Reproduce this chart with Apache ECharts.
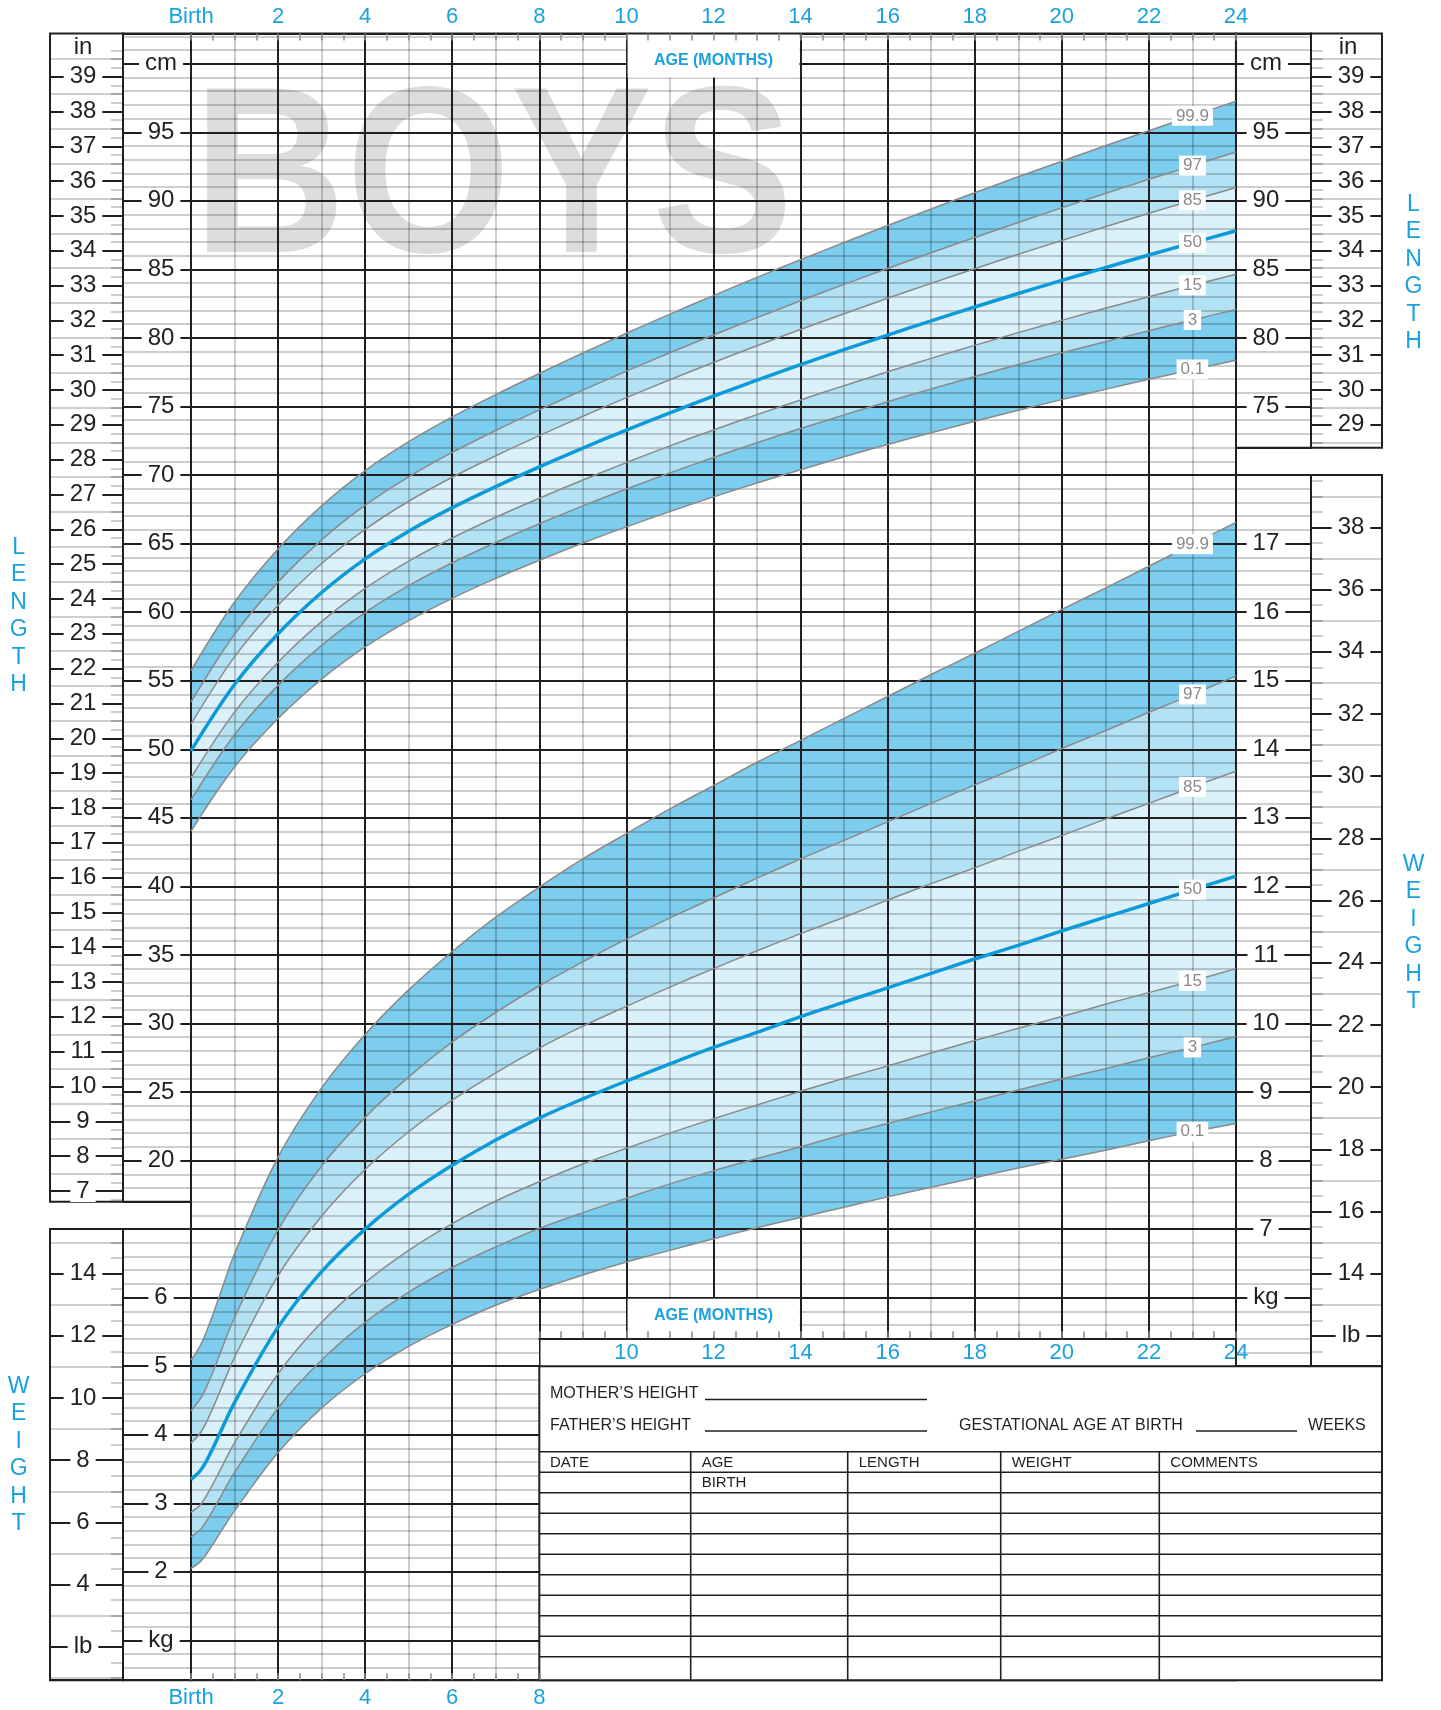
<!DOCTYPE html>
<html>
<head>
<meta charset="utf-8">
<title>Boys length-for-age and weight-for-age, birth to 2 years</title>
<script src="https://cdn.jsdelivr.net/npm/echarts@6.0.0/dist/echarts.min.js"></script>
<style>
html,body{margin:0;padding:0;background:#ffffff;}
#chart{width:1441px;height:1710px;}
</style>
</head>
<body>
<div id="chart"></div>
<script>
// ================= DATA =================
const percentileNames = ['0.1', '3', '15', '50', '85', '97', '99.9'];

// Length-for-age (cm), by month
const lengthMonths = [0,1,2,3,4,5,6,7,8,9,10,11,12,13,14,15,16,17,18,19,20,21,22,23,24];
const lengthP01  = [44.03,48.71,52.24,55.11,57.46,59.38,61.01,62.46,63.78,65.04,66.22,67.34,68.41,69.42,70.39,71.33,72.23,73.09,73.92,74.73,75.50,76.25,76.98,77.69,78.38];
const lengthP3   = [46.32,51.06,54.66,57.58,59.97,61.93,63.60,65.08,66.45,67.75,68.98,70.16,71.28,72.36,73.39,74.39,75.35,76.28,77.19,78.06,78.91,79.73,80.53,81.31,82.07];
const lengthP15  = [47.92,52.71,56.35,59.31,61.73,63.72,65.41,66.92,68.31,69.64,70.91,72.13,73.29,74.41,75.48,76.52,77.53,78.51,79.46,80.39,81.28,82.16,83.01,83.84,84.65];
const lengthP50  = [49.88,54.72,58.42,61.43,63.89,65.90,67.62,69.16,70.60,71.97,73.28,74.54,75.75,76.92,78.05,79.15,80.21,81.25,82.26,83.24,84.20,85.13,86.05,86.94,87.82];
const lengthP85  = [51.85,56.74,60.50,63.55,66.04,68.09,69.84,71.41,72.88,74.29,75.65,76.95,78.21,79.43,80.62,81.77,82.89,83.98,85.05,86.10,87.11,88.11,89.09,90.04,90.98];
const lengthP97  = [53.45,58.39,62.19,65.27,67.80,69.87,71.65,73.25,74.75,76.19,77.58,78.92,80.22,81.48,82.71,83.91,85.07,86.22,87.33,88.42,89.49,90.54,91.57,92.57,93.56];
const lengthP999 = [55.73,60.74,64.61,67.75,70.32,72.43,74.24,75.87,77.41,78.90,80.34,81.74,83.09,84.42,85.70,86.96,88.20,89.41,90.59,91.76,92.89,94.02,95.11,96.20,97.26];

// Weight-for-age (kg): weeks 0-3 then monthly
const weightMonths = [0,0.23,0.46,0.69,1,2,3,4,5,6,7,8,9,10,11,12,13,14,15,16,17,18,19,20,21,22,23,24];
const weightP01  = [2.05,2.16,2.36,2.59,2.89,3.74,4.39,4.89,5.29,5.61,5.89,6.12,6.33,6.52,6.69,6.86,7.02,7.17,7.32,7.47,7.61,7.75,7.89,8.02,8.15,8.29,8.42,8.54];
const weightP3   = [2.51,2.63,2.85,3.11,3.45,4.39,5.09,5.64,6.08,6.44,6.74,7.01,7.24,7.45,7.66,7.85,8.03,8.20,8.38,8.54,8.71,8.87,9.03,9.19,9.34,9.50,9.65,9.81];
const weightP15  = [2.87,2.99,3.23,3.51,3.88,4.89,5.64,6.22,6.69,7.08,7.41,7.69,7.95,8.18,8.40,8.61,8.81,9.01,9.20,9.38,9.57,9.75,9.93,10.10,10.28,10.45,10.62,10.80];
const weightP50  = [3.35,3.49,3.75,4.06,4.47,5.57,6.38,7.00,7.51,7.93,8.30,8.62,8.90,9.16,9.41,9.65,9.87,10.10,10.31,10.52,10.73,10.94,11.14,11.35,11.55,11.75,11.95,12.15];
const weightP85  = [3.88,4.04,4.33,4.67,5.13,6.32,7.19,7.87,8.42,8.88,9.28,9.64,9.96,10.25,10.53,10.80,11.06,11.31,11.55,11.80,12.04,12.27,12.51,12.74,12.98,13.21,13.45,13.68];
const weightP97  = [4.35,4.54,4.85,5.22,5.71,6.99,7.92,8.63,9.22,9.73,10.16,10.55,10.90,11.23,11.54,11.83,12.12,12.40,12.67,12.94,13.21,13.48,13.74,14.01,14.27,14.54,14.80,15.07];
const weightP999 = [5.09,5.32,5.68,6.09,6.64,8.05,9.06,9.84,10.49,11.05,11.55,11.99,12.40,12.77,13.13,13.47,13.81,14.13,14.45,14.77,15.09,15.40,15.72,16.04,16.35,16.67,16.99,17.31];

const labelMonth = 23;              // where the percentile tags sit
const ageTitle = 'AGE (MONTHS)';
const watermark = 'BOYS';
const lengthTitle = 'LENGTH';
const weightTitle = 'WEIGHT';
const formLines = ['MOTHER’S HEIGHT', 'FATHER’S HEIGHT', 'GESTATIONAL AGE AT BIRTH', 'WEEKS'];
const tableHeaders = ['DATE', 'AGE', 'LENGTH', 'WEIGHT', 'COMMENTS'];
const firstRowAge = 'BIRTH';
const tableRowCount = 10;

// ================= STYLE / LAYOUT =================
const INK = '#231f20', MINOR = 'rgba(0,0,0,0.26)', TICKC = '#8c8c8c';
const BLUE = '#1ba1dd', LINE50 = '#0e9ad8', PCTL = '#8a8a8a';
const DARK = '#7ccdee', MID = '#b4e2f5', LIGHT = '#dbf1fa', WHITE = '#ffffff';
const FONT = '"Liberation Sans", Arial, Helvetica, sans-serif';
const SM = 0.35;

const X0 = 191, PXM = 43.54, Y100 = 63.75, PXC = 13.71;
const xPx = m => X0 + m * PXM;
const yCm = cm => Y100 + (100 - cm) * PXC;
const cmOfKg = kg => (kg - 4) * 5;
const kgOfCm = cm => cm / 5 + 4;
const yKg = kg => yCm(cmOfKg(kg));
const CM_TOP = 102.2, CM_BOT = -17.9;
const IN = 2.54, LB = 0.45359237;

const L_IN = [50, 123], L_CM = [123, X0], R_CM = [xPx(24), 1311], R_IN = [1311, 1382];
const STRIP_TOP = 1338.3, FORM_TOP = yKg(5), BOTTOM = yCm(CM_BOT), FORM_X = xPx(8), FORM_RIGHT = R_IN[1];

function gridBox(xr, cmTop, cmBot, extra) {
  return Object.assign({left: xr[0], width: xr[1] - xr[0], top: yCm(cmTop), height: yCm(cmBot) - yCm(cmTop), show: false, containLabel: false}, extra || {});
}
const BORDER = {show: true, borderColor: INK, borderWidth: 2, backgroundColor: '#ffffff'};

const grids = [
  gridBox([X0, xPx(24)], CM_TOP, CM_BOT, {show: true, borderColor: INK, borderWidth: 2, backgroundColor: 'transparent'}), // 0 main
  {left: X0, width: 8 * PXM, top: BOTTOM - 30, height: 30},                 // 1 bottom axis birth-8
  {left: FORM_X, width: 16 * PXM, top: STRIP_TOP - 30, height: 30},          // 2 bottom axis 8-24
  gridBox(L_IN, CM_TOP, 17, BORDER),                                         // 3 left inches (minor)
  gridBox(L_IN, 39 * IN, 7 * IN),                                            // 4 left inches (major)
  gridBox(L_CM, CM_TOP, 17, BORDER),                                         // 5 left cm
  gridBox(L_IN, cmOfKg(7), CM_BOT, BORDER),                                  // 6 left lb
  gridBox(L_CM, cmOfKg(7), CM_BOT, BORDER),                                  // 7 left kg
  gridBox(R_CM, CM_TOP, 72, BORDER),                                         // 8 right cm
  gridBox(R_IN, CM_TOP, 72, BORDER),                                         // 9 right inches (minor)
  gridBox(R_IN, 39 * IN, 29 * IN),                                           // 10 right inches (major)
  gridBox(R_CM, cmOfKg(18), cmOfKg(5), BORDER),                              // 11 right kg
  gridBox(R_IN, cmOfKg(18), cmOfKg(5), BORDER)                               // 12 right lb
];

const AL = {show: false, onZero: false};
const NO = {show: false};
const ageFmt = v => (v === 0 ? 'Birth' : String(v));
const axisLabelStyle = {color: BLUE, fontSize: 22, fontFamily: FONT};
const halfTicks = {show: true, inside: true, length: 7, lineStyle: {color: TICKC, width: 1.5}};

const xAxes = [
  {gridIndex: 0, type: 'value', min: 0, max: 24, interval: 2, position: 'bottom', axisLine: AL, axisTick: NO, axisLabel: NO,
    splitLine: {show: true, lineStyle: {color: INK, width: 2}}, minorTick: {show: false, splitNumber: 2},
    minorSplitLine: {show: true, lineStyle: {color: MINOR, width: 1.5}}, z: 3},
  {gridIndex: 0, type: 'value', min: 0, max: 24, interval: 2, position: 'top', axisLine: AL, axisTick: NO, splitLine: NO,
    axisLabel: Object.assign({show: true, margin: 6, formatter: ageFmt}, axisLabelStyle), z: 6},
  {gridIndex: 0, type: 'value', min: 0, max: 24, interval: 0.5, position: 'top', axisLine: AL, axisLabel: NO, splitLine: NO, axisTick: halfTicks, z: 6},
  {gridIndex: 1, type: 'value', min: 0, max: 8, interval: 2, position: 'bottom', axisLine: AL, axisTick: NO, splitLine: NO,
    axisLabel: Object.assign({show: true, margin: 7, formatter: ageFmt}, axisLabelStyle), z: 6},
  {gridIndex: 1, type: 'value', min: 0, max: 8, interval: 0.5, position: 'bottom', axisLine: AL, axisLabel: NO, splitLine: NO, axisTick: halfTicks, z: 6},
  {gridIndex: 2, type: 'value', min: 8, max: 24, interval: 2, position: 'bottom',
    axisLine: {show: true, onZero: false, lineStyle: {color: INK, width: 2}}, axisTick: NO, splitLine: NO,
    axisLabel: Object.assign({show: true, margin: 4, showMinLabel: false, formatter: ageFmt}, axisLabelStyle), z: 6},
  {gridIndex: 2, type: 'value', min: 8, max: 24, interval: 0.5, position: 'bottom', axisLine: AL, axisLabel: NO, splitLine: NO, axisTick: halfTicks, z: 6}
];
for (let g = 3; g < grids.length; g++) xAxes.push({gridIndex: g, type: 'value', min: 1, max: 2, show: false, axisLine: AL});

function linesAxis(gi, min, max, step, minorSplit, showMajor, showMinor) {
  return {gridIndex: gi, type: 'value', min: min, max: max, minInterval: step, maxInterval: step, position: 'left',
    axisLine: AL, axisTick: NO, axisLabel: NO,
    splitLine: {show: showMajor, lineStyle: {color: INK, width: 2}},
    minorTick: {show: false, splitNumber: minorSplit},
    minorSplitLine: {show: showMinor, lineStyle: {color: MINOR, width: 1.5}}, z: 3};
}
function minorTickAxis(gi, min, max, step, side) {
  return {gridIndex: gi, type: 'value', min: min, max: max, minInterval: step, maxInterval: step, position: side,
    axisLine: AL, axisLabel: NO, splitLine: NO, axisTick: {show: false, inside: true},
    minorTick: {show: true, splitNumber: 4, length: 12, lineStyle: {color: MINOR, width: 1.5}}, z: 3};
}
function labelsAxis(gi, min, max, step, margin, fmt, hideExt) {
  return {gridIndex: gi, type: 'value', min: min, max: max, minInterval: step, maxInterval: step, position: 'left',
    axisLine: AL, axisTick: NO, splitLine: NO,
    axisLabel: {show: true, inside: true, align: 'center', margin: margin, showMinLabel: !hideExt, showMaxLabel: !hideExt,
      formatter: fmt, color: INK, fontSize: 24, fontFamily: FONT, backgroundColor: '#ffffff', padding: [0, 6], lineHeight: 22}, z: 6};
}
const unitFmt = (unitVal, unit) => v => (Math.abs(v - unitVal) < 1e-6 ? unit : String(Math.round(v)));

const yAxes = [
  {gridIndex: 0, type: 'value', min: CM_BOT, max: CM_TOP, minInterval: 5, maxInterval: 5, axisLine: AL, axisTick: NO, axisLabel: NO,
    splitLine: {show: true, lineStyle: {color: INK, width: 2}}, minorTick: {show: false, splitNumber: 5},
    minorSplitLine: {show: true, lineStyle: {color: MINOR, width: 1.5}}, z: 3},                              // 0 cm
  {gridIndex: 0, type: 'value', min: kgOfCm(CM_BOT), max: kgOfCm(CM_TOP), show: false, axisLine: AL},      // 1 kg
  {gridIndex: 1, type: 'value', min: 1, max: 2, show: false, axisLine: AL},
  {gridIndex: 2, type: 'value', min: 1, max: 2, show: false, axisLine: AL},
  // left inches
  linesAxis(3, 17 / IN, CM_TOP / IN, 1, 2, false, true),
  minorTickAxis(3, 17 / IN, CM_TOP / IN, 1, 'right'),
  linesAxis(4, 7, 39, 1, 2, true, false),
  labelsAxis(4, 7, 39, 1, 33, v => String(v), false),
  // left cm
  linesAxis(5, 17, CM_TOP, 5, 5, true, true),
  labelsAxis(5, 17, CM_TOP, 5, 38, unitFmt(100, 'cm'), true),
  // left lb
  linesAxis(6, kgOfCm(CM_BOT) / LB, 7 / LB, 2, 2, true, true),
  minorTickAxis(6, kgOfCm(CM_BOT) / LB, 7 / LB, 2, 'right'),
  labelsAxis(6, kgOfCm(CM_BOT) / LB, 7 / LB, 2, 33, unitFmt(2, 'lb'), true),
  // left kg
  linesAxis(7, kgOfCm(CM_BOT), 7, 1, 5, true, true),
  labelsAxis(7, kgOfCm(CM_BOT), 7, 1, 38, unitFmt(1, 'kg'), true),
  // right cm
  linesAxis(8, 72, CM_TOP, 5, 5, true, true),
  labelsAxis(8, 72, CM_TOP, 5, 30, unitFmt(100, 'cm'), true),
  // right inches
  linesAxis(9, 72 / IN, CM_TOP / IN, 1, 2, false, true),
  minorTickAxis(9, 72 / IN, CM_TOP / IN, 1, 'left'),
  linesAxis(10, 29, 39, 1, 2, true, false),
  labelsAxis(10, 29, 39, 1, 40, v => String(v), false),
  // right kg
  linesAxis(11, 5, 18, 1, 5, true, true),
  labelsAxis(11, 5, 18, 1, 30, unitFmt(6, 'kg'), true),
  // right lb
  linesAxis(12, 5 / LB, 18 / LB, 2, 2, true, true),
  minorTickAxis(12, 5 / LB, 18 / LB, 2, 'left'),
  labelsAxis(12, 5 / LB, 18 / LB, 2, 40, unitFmt(12, 'lb'), true)
];

// ================= SERIES =================
const pairs = (xs, ys) => xs.map((x, i) => [x, ys[i]]);

// Bands: each percentile curve filled down to the axis bottom, painted from the highest curve to the lowest,
// so every band shows between two neighbouring curves (the last, white, clears the area below 0.1).
function bandSeries(xs, P, yIdx) {
  const order = [[6, DARK], [5, MID], [4, LIGHT], [2, MID], [1, DARK], [0, WHITE]];
  return order.map(([k, c]) => ({type: 'line', xAxisIndex: 0, yAxisIndex: yIdx, data: pairs(xs, P[k]), smooth: SM,
    symbol: 'none', lineStyle: {width: 0, opacity: 0}, areaStyle: {color: c, opacity: 1, origin: 'start'},
    silent: true, z: 2, animation: false}));
}
function curveSeries(xs, P, yIdx) {
  const li = xs.indexOf(labelMonth);
  return P.map((arr, k) => ({
    type: 'line', xAxisIndex: 0, yAxisIndex: yIdx, data: pairs(xs, arr), smooth: SM, symbol: 'none', silent: true, z: 4, animation: false,
    lineStyle: k === 3 ? {color: LINE50, width: 3.5} : {color: PCTL, width: 1.5},
    markPoint: {symbol: 'rect', symbolSize: 1, silent: true, z: 7, animation: false, itemStyle: {color: 'rgba(0,0,0,0)'},
      label: {show: true, position: 'inside', formatter: percentileNames[k], color: '#8a8a8a', fontSize: 17, fontFamily: FONT,
        backgroundColor: '#ffffff', padding: [2, 4, 1, 4]},
      data: [{coord: [xs[li], arr[li]]}]}
  }));
}
const lengthP = [lengthP01, lengthP3, lengthP15, lengthP50, lengthP85, lengthP97, lengthP999];
const weightP = [weightP01, weightP3, weightP15, weightP50, weightP85, weightP97, weightP999];
const series = [].concat(
  bandSeries(lengthMonths, lengthP, 0),
  bandSeries(weightMonths, weightP, 1),
  curveSeries(lengthMonths, lengthP, 0),
  curveSeries(weightMonths, weightP, 1)
);

// ================= FRAME / FORM GRAPHICS =================
const txt = (x, y, text, size, fill, extra) => ({type: 'text', x: x, y: y, z: 7, silent: true,
  style: Object.assign({text: text, font: size + 'px ' + FONT, fill: fill, align: 'left', verticalAlign: 'middle'}, extra || {})});
const line = (x1, y1, x2, y2, w) => ({type: 'line', z: 7, silent: true, shape: {x1: x1, y1: y1, x2: x2, y2: y2}, style: {stroke: INK, lineWidth: w || 1.6}});
const vertical = s => s.split('').join('\n');

const graphics = [
  {type: 'text', x: 193, y: 67, scaleX: 0.89, z: 1, silent: true,
    style: {text: watermark, font: 'bold 238px ' + FONT, fill: '#dcddde', align: 'left', verticalAlign: 'top'}},
  // AGE (MONTHS) boxes
  {type: 'rect', z: 5, silent: true, shape: {x: xPx(10) + 1.2, y: yCm(CM_TOP) + 1, width: xPx(14) - xPx(10) - 2.4, height: yCm(99) - yCm(CM_TOP) - 1}, style: {fill: '#ffffff'}},
  txt((xPx(10) + xPx(14)) / 2, 60.5, ageTitle, 16, BLUE, {align: 'center', font: 'bold 16px ' + FONT}),
  {type: 'rect', z: 5, silent: true, shape: {x: xPx(10) + 1.2, y: yKg(6) + 1.2, width: xPx(14) - xPx(10) - 2.4, height: STRIP_TOP - yKg(6) - 2.2}, style: {fill: '#ffffff'}},
  txt((xPx(10) + xPx(14)) / 2, 1316, ageTitle, 16, BLUE, {align: 'center', font: 'bold 16px ' + FONT}),
  // strip under the weight curves + record form
  {type: 'rect', z: 5, silent: true, shape: {x: FORM_X + 1.2, y: STRIP_TOP, width: xPx(24) - 1.2 - (FORM_X + 1.2), height: FORM_TOP - STRIP_TOP}, style: {fill: '#ffffff'}},
  {type: 'rect', z: 5, silent: true, shape: {x: FORM_X, y: FORM_TOP, width: FORM_RIGHT - FORM_X, height: BOTTOM - FORM_TOP}, style: {fill: '#ffffff', stroke: INK, lineWidth: 2}},
  // unit titles and side titles
  txt(83, 47, 'in', 24, INK, {align: 'center'}),
  txt(1348, 47, 'in', 24, INK, {align: 'center'}),
  txt(18.6, 616, vertical(lengthTitle), 23, BLUE, {align: 'center', lineHeight: 27.5}),
  txt(18.6, 1455, vertical(weightTitle), 23, BLUE, {align: 'center', lineHeight: 27.5}),
  txt(1413.5, 273, vertical(lengthTitle), 23, BLUE, {align: 'center', lineHeight: 27.5}),
  txt(1413.5, 933, vertical(weightTitle), 23, BLUE, {align: 'center', lineHeight: 27.5}),
  // form fields
  txt(550, 1394, formLines[0], 16, INK), line(705, 1399.5, 927, 1399.5, 1.5),
  txt(550, 1426, formLines[1], 16, INK), line(705, 1431, 927, 1431, 1.5),
  txt(959, 1426, formLines[2], 16, INK), line(1196, 1431, 1297, 1431, 1.5),
  txt(1308, 1426, formLines[3], 16, INK)
];
// table
const rowTop = 1451.7, rowH = 20.5;
for (let k = 0; k <= tableRowCount; k++) graphics.push(line(FORM_X, rowTop + k * rowH, FORM_RIGHT, rowTop + k * rowH, 1.6));
const colX = [FORM_X, 690.7, 847.7, 1000.7, 1159.3];
colX.slice(1).forEach(x => graphics.push(line(x, rowTop, x, BOTTOM, 1.6)));
tableHeaders.forEach((h, i) => graphics.push(txt(colX[i] + (i === 0 ? 10.7 : 11), rowTop + 11, h, 15, INK)));
graphics.push(txt(colX[1] + 11, rowTop + rowH + 11, firstRowAge, 15, INK));

// ================= CHART =================
const chart = echarts.init(document.getElementById('chart'), null, {renderer: 'canvas', width: 1441, height: 1710});
chart.setOption({
  animation: false,
  backgroundColor: '#ffffff',
  textStyle: {fontFamily: FONT},
  grid: grids,
  xAxis: xAxes,
  yAxis: yAxes,
  series: series,
  graphic: {elements: graphics}
});
</script>
</body>
</html>
